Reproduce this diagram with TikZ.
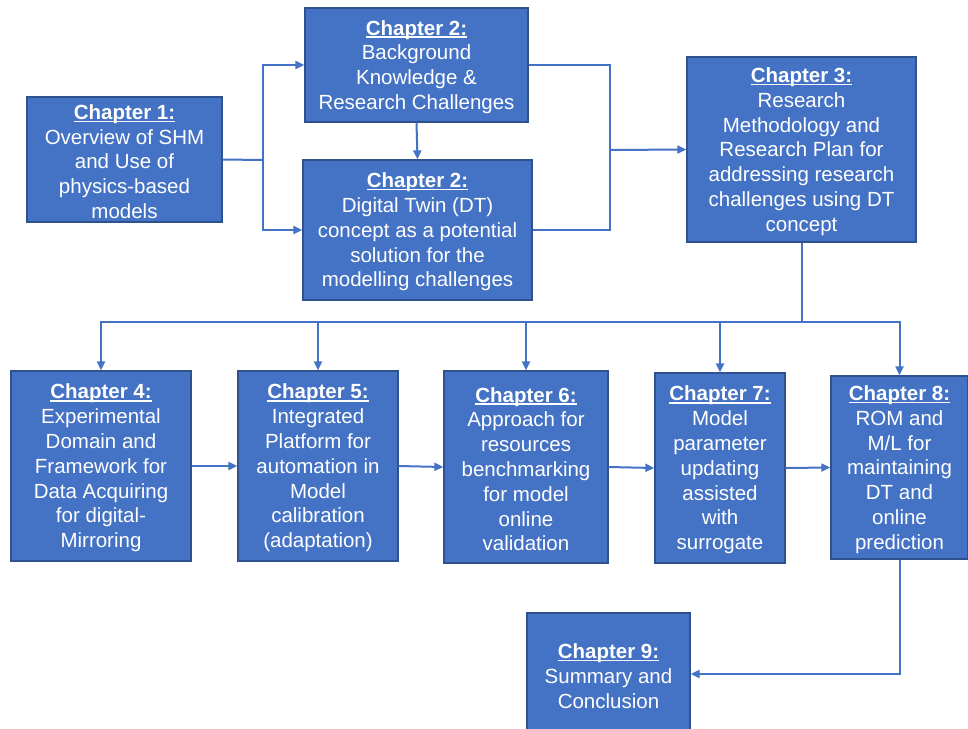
\documentclass[tikz,border=0pt]{standalone}
\usepackage{fontspec}
\setmainfont{Liberation Sans}
\usetikzlibrary{arrows.meta}
\definecolor{boxfill}{HTML}{4472C4}
\definecolor{boxline}{HTML}{2F528F}
\definecolor{linkblue}{HTML}{4472C4}
% bold, underlined chapter heading with a rule that scales with the text;
% the strut leaves a little extra room above the heading
\newcommand\chaptitle[1]{\rule{0pt}{19pt}\setbox0\hbox{\bfseries Chapter #1:}\rlap{\rule[-2.7pt]{\wd0}{1.5pt}}\box0}

\begin{document}
\begin{tikzpicture}[x=1pt,y=-1pt,
  chapbox/.style={draw=boxline, line width=1.3pt, fill=boxfill, text=white,
    align=center, inner sep=0pt, font=\fontsize{20.5}{24.8}\selectfont},
  link/.style={draw=linkblue, line width=2pt},
  arr/.style={link, -{Triangle[length=9pt,width=8pt]}}]

\clip (0,0) rectangle (968,728);
\fill[white] (0,0) rectangle (968,728);

% chapter boxes
\node[chapbox, minimum width=195, minimum height=125] (ch1) at (124.5,159.5)
  {\chaptitle{1}\\Overview of SHM\\and Use of\\physics-based\\models};
\node[chapbox, minimum width=223, minimum height=114] (ch2a) at (416.5,65)
  {\chaptitle{2}\\Background\\Knowledge \&\\Research Challenges};
\node[chapbox, minimum width=229, minimum height=140] (ch2b) at (417.5,230)
  {\chaptitle{2}\\Digital Twin (DT)\\concept as a potential\\solution for the\\modelling challenges};
\node[chapbox, minimum width=229, minimum height=185] (ch3) at (801.5,149.5)
  {\chaptitle{3}\\Research\\Methodology and\\Research Plan for\\addressing research\\challenges using DT\\concept};
\node[chapbox, minimum width=180, minimum height=190] (ch4) at (101,466)
  {\chaptitle{4}\\Experimental\\Domain and\\Framework for\\Data Acquiring\\for digital-\\Mirroring};
\node[chapbox, minimum width=160, minimum height=190] (ch5) at (318,466)
  {\chaptitle{5}\\Integrated\\Platform for\\automation in\\Model\\calibration\\(adaptation)};
\node[chapbox, minimum width=164, minimum height=192] (ch6) at (526,467)
  {\chaptitle{6}\\Approach for\\resources\\benchmarking\\for model\\online\\validation};
\node[chapbox, minimum width=130, minimum height=190] (ch7) at (720,468)
  {\chaptitle{7}\\Model\\parameter\\updating\\assisted\\with\\surrogate};
\node[chapbox, minimum width=137, minimum height=183] (ch8) at (899.5,467.5)
  {\chaptitle{8}\\ROM and\\M/L for\\maintaining\\DT and\\online\\prediction};
\node[chapbox, minimum width=163, minimum height=122] (ch9) at (608.5,674)
  {\chaptitle{9}\\Summary and\\Conclusion};

% junction points of the connectors
\coordinate (j1) at (263,160);
\coordinate (j2) at (610,150);
\coordinate (j3) at (801.5,322);

% chapter 1 to both chapter 2 boxes
\draw[link] (ch1.east) -- (j1);
\draw[arr] (j1) |- (ch2a.west);
\draw[arr] (j1) |- (ch2b.west);
\draw[arr] (ch2a.south) -- (ch2b.north);

% chapter 2 boxes merge into chapter 3
\draw[link] (ch2a.east) -| (j2);
\draw[link] (ch2b.east) -| (j2);
\draw[arr] (j2) -- (ch3.west);

% chapter 3 fans out to chapters 4 to 8
\draw[link] (ch3.south) -- (j3);
\draw[arr] (j3) -| (ch4.north);
\draw[arr] (j3) -| (ch5.north);
\draw[arr] (j3) -| (ch6.north);
\draw[arr] (j3) -| (ch7.north);
\draw[arr] (j3) -| (ch8.north);

% chain along the lower row
\draw[arr] (ch4.east) -- (ch5.west);
\draw[arr] (ch5.east) -- (ch6.west);
\draw[arr] (ch6.east) -- (ch7.west);
\draw[arr] (ch7.east) -- (ch8.west);

% chapter 8 to the conclusion
\draw[arr] (ch8.south) |- (ch9.east);
\end{tikzpicture}
\end{document}
